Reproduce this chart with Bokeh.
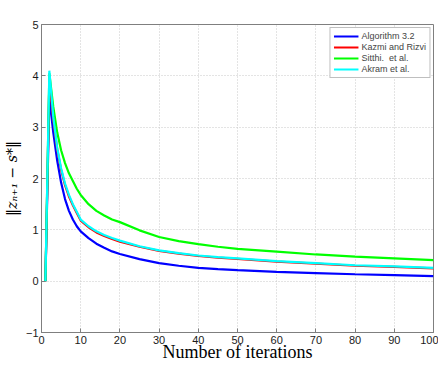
from bokeh.plotting import figure
from bokeh.models import Range1d, FixedTicker, Legend, LegendItem
from bokeh.embed import file_html
from bokeh.resources import INLINE

# iteration numbers at which values were read
n = [1, 2, 3, 4, 5, 6, 7, 8, 9, 10, 12, 14, 16, 18, 20, 25, 30, 35, 40, 45, 50, 60, 70, 80, 90, 100]

alg32 = [0, 3.58, 2.9, 2.35, 1.92, 1.6, 1.37, 1.2, 1.07, 0.97, 0.84, 0.73, 0.65, 0.58, 0.53,
         0.43, 0.35, 0.30, 0.26, 0.235, 0.215, 0.18, 0.157, 0.135, 0.117, 0.10]
kazmi = [0, 3.9, 3.15, 2.57, 2.17, 1.87, 1.65, 1.48, 1.33, 1.18, 1.05, 0.95, 0.88, 0.82, 0.77,
         0.67, 0.59, 0.535, 0.49, 0.46, 0.435, 0.38, 0.34, 0.30, 0.28, 0.25]
sitthi = [0, 4.05, 3.4, 2.9, 2.55, 2.3, 2.1, 1.95, 1.8, 1.68, 1.5, 1.37, 1.28, 1.2, 1.15,
          0.99, 0.86, 0.78, 0.72, 0.67, 0.63, 0.575, 0.52, 0.48, 0.445, 0.41]
akram = [0, 4.1, 3.2, 2.6, 2.2, 1.9, 1.68, 1.5, 1.35, 1.2, 1.07, 0.97, 0.9, 0.84, 0.79,
         0.68, 0.60, 0.545, 0.50, 0.47, 0.445, 0.39, 0.35, 0.31, 0.29, 0.26]

series_names = ["Algorithm 3.2", "Kazmi and Rizvi", "Sitthi.  et al.", "Akram et al."]
series_values = [alg32, kazmi, sitthi, akram]
series_colors = ["#0000FF", "#FF0000", "#00FF00", "#00FFFF"]

x_ticks = [0, 10, 20, 30, 40, 50, 60, 70, 80, 90, 100]
y_ticks = [-1, 0, 1, 2, 3, 4, 5]

p = figure(frame_width=392, frame_height=308, output_backend="svg", toolbar_location=None,
           x_range=Range1d(0, 100), y_range=Range1d(-1, 5),
           min_border_left=35, min_border_top=24, min_border_right=5, min_border_bottom=20)
p.background_fill_color = "white"
p.outline_line_color = "#7f7f7f"
p.outline_line_width = 1

renderers = []
for name, vals, col in zip(series_names, series_values, series_colors):
    r = p.line(n, vals, line_color=col, line_width=2.2)
    renderers.append((name, r))

legend = Legend(items=[LegendItem(label=nm, renderers=[r]) for nm, r in renderers],
                location="top_right")
legend.border_line_color = "#7f7f7f"
legend.border_line_width = 1
legend.background_fill_alpha = 1
legend.label_text_font = "Liberation Sans"
legend.label_text_font_size = "9px"
legend.label_height = 10
legend.glyph_height = 10
legend.glyph_width = 25
legend.spacing = 1
legend.padding = 3
legend.margin = 3
legend.label_standoff = 3
p.add_layout(legend)

for ax in (p.xaxis[0], p.yaxis[0]):
    ax.axis_line_color = "#7f7f7f"
    ax.major_tick_line_color = "#7f7f7f"
    ax.major_tick_in = 4
    ax.major_tick_out = 0
    ax.minor_tick_line_color = None
    ax.major_label_text_font = "Liberation Sans"
    ax.major_label_text_font_size = "11px"
    ax.major_label_text_color = "#1a1a1a"
    ax.major_label_standoff = 3

p.xaxis.ticker = FixedTicker(ticks=x_ticks)
p.yaxis.ticker = FixedTicker(ticks=y_ticks)

p.xaxis.axis_label = "Number of iterations"
p.xaxis.axis_label_text_font = "Liberation Serif"
p.xaxis.axis_label_text_font_style = "normal"
p.xaxis.axis_label_text_font_size = "18px"
p.xaxis.axis_label_text_color = "black"
p.xaxis.axis_label_standoff = -5

p.yaxis.axis_label = "\u2016z\u2099\u208a\u2081 \u2212 s*\u2016"
p.yaxis.axis_label_text_font = "DejaVu Serif"
p.yaxis.axis_label_text_font_style = "italic"
p.yaxis.axis_label_text_font_size = "14px"
p.yaxis.axis_label_text_color = "black"
p.yaxis.axis_label_standoff = 3

p.grid.grid_line_color = "#c8c8c8"
p.grid.grid_line_dash = "1 2"
p.grid.grid_line_width = 1
p.xgrid.ticker = FixedTicker(ticks=x_ticks)
p.ygrid.ticker = FixedTicker(ticks=y_ticks)

open("out.html", "w").write(file_html(p, INLINE))
